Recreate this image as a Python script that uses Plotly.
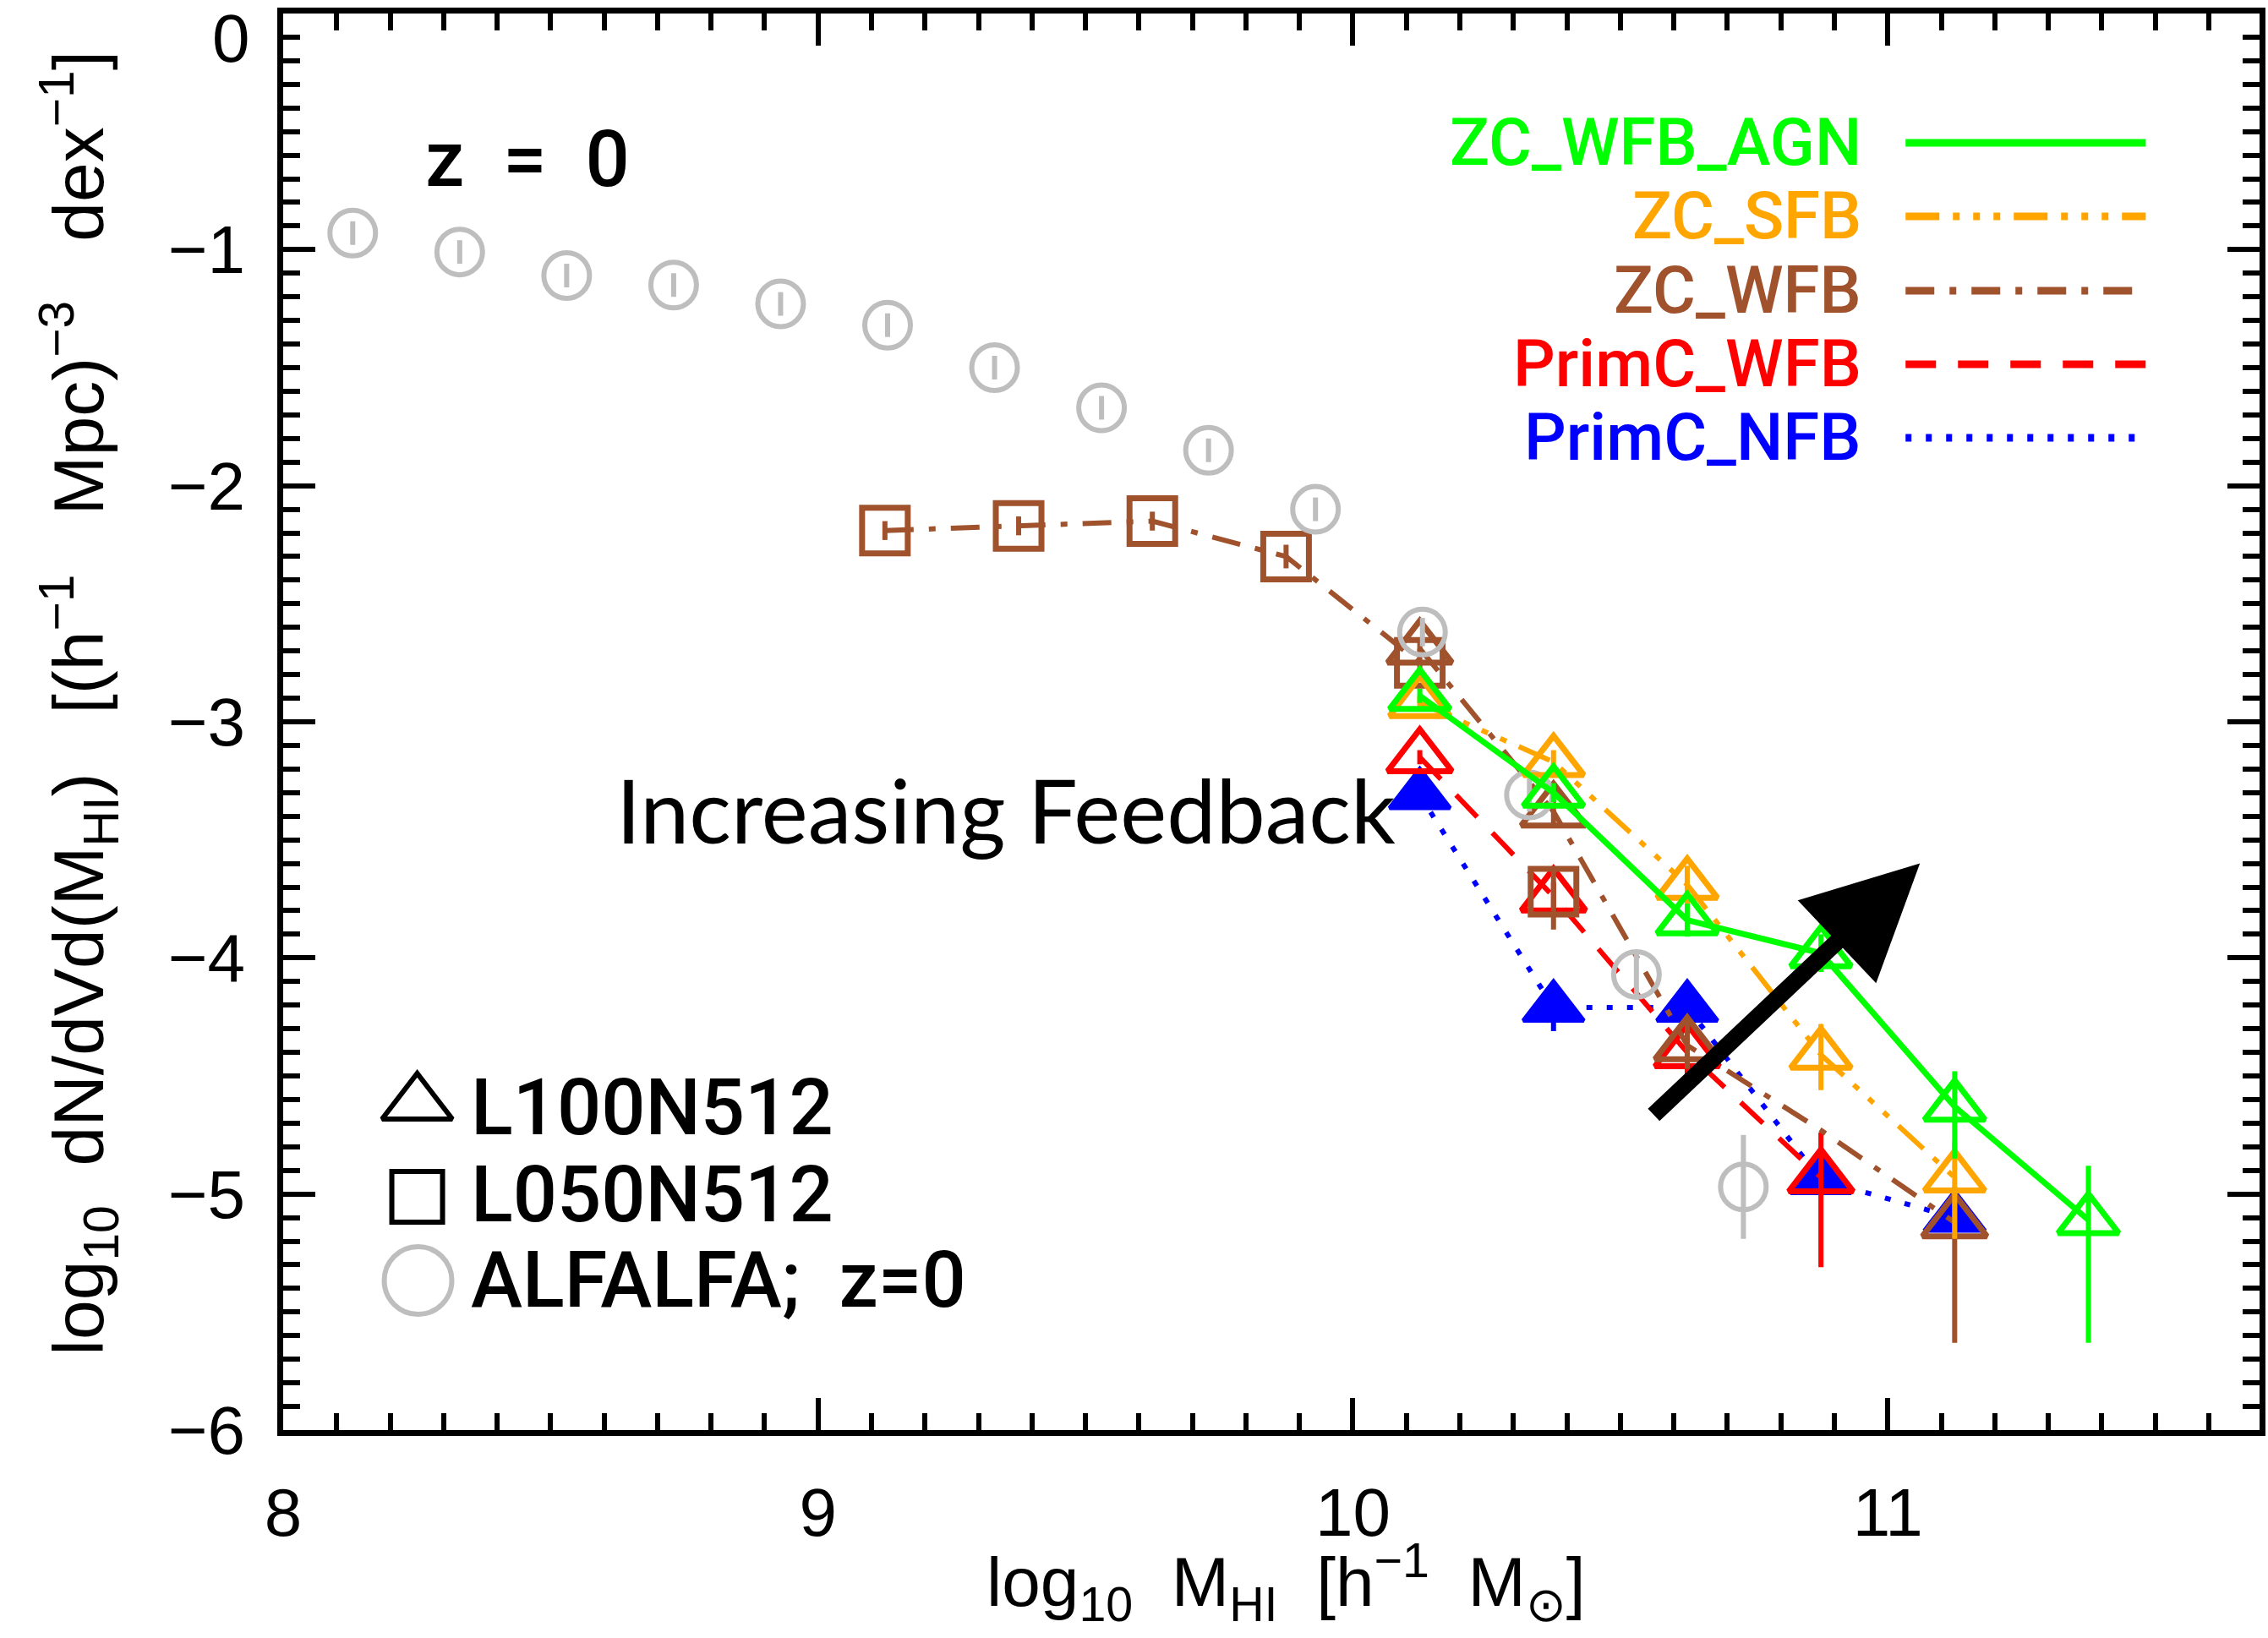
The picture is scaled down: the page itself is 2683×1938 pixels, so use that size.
import plotly.graph_objects as go

# ---------------- data ----------------
# ALFALFA observations (z=0)
alf_x = [8.13, 8.33, 8.53, 8.73, 8.93, 9.13, 9.33, 9.53, 9.73, 9.93, 10.13, 10.33, 10.53, 10.73]
alf_y = [-0.93, -1.01, -1.11, -1.15, -1.23, -1.32, -1.50, -1.67, -1.85, -2.10, -2.62, -3.31, -4.07, -4.97]
alf_err = [0.05, 0.05, 0.05, 0.05, 0.05, 0.05, 0.05, 0.05, 0.05, 0.05, 0.06, 0.07, 0.09, 0.22]

# L100N512 simulations (triangles)
sim_x = [10.125, 10.375, 10.625, 10.875, 11.125, 11.375]

agn_y = [-2.89, -3.30, -3.84, -3.98, -4.63, -5.11]
agn_ep = [0.03, 0.04, 0.07, 0.08, 0.15, 0.23]
agn_em = [0.03, 0.04, 0.07, 0.08, 0.22, 0.52]

sfb_y = [-2.92, -3.17, -3.69, -4.41, -4.93]
sfb_ep = [0.03, 0.05, 0.08, 0.13, 0.15]
sfb_em = [0.03, 0.05, 0.08, 0.15, 0.26]

wfb_y = [-2.69, -3.38, -4.37, -4.73, -5.12]
wfb_ep = [0.03, 0.05, 0.10, 0.0, 0.15]
wfb_em = [0.03, 0.05, 0.10, 0.0, 0.51]
wfb_shown = [1, 1, 1, 0, 1]

pwfb_y = [-3.15, -3.74, -4.40, -4.93]
pwfb_ep = [0.03, 0.06, 0.10, 0.19]
pwfb_em = [0.03, 0.06, 0.10, 0.38]

pnfb_y = [-3.31, -4.21, -4.21, -4.94, -5.10]
pnfb_ep = [0.03, 0.04, 0.04, 0.05, 0.05]
pnfb_em = [0.03, 0.10, 0.04, 0.05, 0.05]

# L050N512 simulation (squares), ZC_WFB
sq_x = [9.125, 9.375, 9.625, 9.875, 10.125, 10.375]
sq_y = [-2.19, -2.17, -2.15, -2.30, -2.75, -3.72]
sq_ep = [0.04, 0.04, 0.04, 0.05, 0.06, 0.09]
sq_em = [0.04, 0.04, 0.04, 0.05, 0.06, 0.16]

y_tick_vals = [0, -1, -2, -3, -4, -5, -6]
y_tick_text = ["0", "\u22121", "\u22122", "\u22123", "\u22124", "\u22125", "\u22126"]
x_tick_vals = [8, 9, 10, 11]
x_tick_text = ["8", "9", "10", "11"]

legend_names = ["ZC_WFB_AGN", "ZC_SFB", "ZC_WFB", "PrimC_WFB", "PrimC_NFB"]

# ---------------- styles ----------------
GREEN = "#00ff00"
ORANGE = "#ffa500"
BROWN = "#a0522d"
RED = "#ff0000"
BLUE = "#0000ff"
GREY = "#bebebe"
DASH = {
    "ZC_WFB_AGN": "solid",
    "ZC_SFB": "40px,16px,8px,16px,8px,16px,8px,16px",
    "ZC_WFB": "34px,18px,8px,18px",
    "PrimC_WFB": "36px,26px",
    "PrimC_NFB": "7px,17px",
}
COLORS = {"ZC_WFB_AGN": GREEN, "ZC_SFB": ORANGE, "ZC_WFB": BROWN,
          "PrimC_WFB": RED, "PrimC_NFB": BLUE}

W, H = 2683, 1938
ML, MR, MT, MB = 335, 3, 16, 246
PW, PH = W - ML - MR, H - MT - MB


def px(x):
    return (x - ML) / PW


def py(y):
    return (H - MB - y) / PH


TRI = 62
LW = 6
EBW = 6

fig = go.Figure()


def err(ep, em, color):
    return dict(type="data", symmetric=False, array=ep, arrayminus=em,
                color=color, thickness=EBW, width=0)


# order of drawing: blue, red, brown, ALFALFA, orange, green
fig.add_trace(go.Scatter(
    x=sim_x[:len(pnfb_y)], y=pnfb_y, mode="lines+markers",
    line=dict(color=BLUE, width=LW, dash=DASH["PrimC_NFB"]),
    marker=dict(symbol="triangle-up", size=TRI, color=BLUE,
                line=dict(color=BLUE, width=5)),
    error_y=err(pnfb_ep, pnfb_em, BLUE), showlegend=False))

fig.add_trace(go.Scatter(
    x=sim_x[:len(pwfb_y)], y=pwfb_y, mode="lines+markers",
    line=dict(color=RED, width=LW, dash=DASH["PrimC_WFB"]),
    marker=dict(symbol="triangle-up-open", size=TRI + 4, color=RED,
                line=dict(color=RED, width=7)),
    error_y=err(pwfb_ep, pwfb_em, RED), showlegend=False))

fig.add_trace(go.Scatter(
    x=sq_x[:5], y=sq_y[:5], mode="lines",
    line=dict(color=BROWN, width=LW, dash=DASH["ZC_WFB"]),
    showlegend=False, hoverinfo="skip"))
fig.add_trace(go.Scatter(
    x=sq_x, y=sq_y, mode="markers",
    marker=dict(symbol="square-open", size=54, color=BROWN,
                line=dict(color=BROWN, width=7)),
    error_y=err(sq_ep, sq_em, BROWN), showlegend=False))

fig.add_trace(go.Scatter(
    x=sim_x[:len(wfb_y)], y=wfb_y, mode="lines+markers",
    line=dict(color=BROWN, width=LW, dash=DASH["ZC_WFB"]),
    marker=dict(symbol="triangle-up-open", size=TRI + 4, color=BROWN,
                opacity=wfb_shown, line=dict(color=BROWN, width=7)),
    error_y=err(wfb_ep, wfb_em, BROWN), showlegend=False))

fig.add_trace(go.Scatter(
    x=alf_x, y=alf_y, mode="markers",
    marker=dict(symbol="circle-open", size=54, color=GREY,
                line=dict(color=GREY, width=6)),
    error_y=dict(type="data", array=alf_err, color=GREY, thickness=6, width=0),
    showlegend=False))

fig.add_trace(go.Scatter(
    x=sim_x[:len(sfb_y)], y=sfb_y, mode="lines+markers",
    line=dict(color=ORANGE, width=LW, dash=DASH["ZC_SFB"]),
    marker=dict(symbol="triangle-up-open", size=TRI, color=ORANGE,
                line=dict(color=ORANGE, width=7)),
    error_y=err(sfb_ep, sfb_em, ORANGE), showlegend=False))

fig.add_trace(go.Scatter(
    x=sim_x, y=agn_y, mode="lines+markers",
    line=dict(color=GREEN, width=LW + 1, dash=DASH["ZC_WFB_AGN"]),
    marker=dict(symbol="triangle-up-open", size=TRI, color=GREEN,
                line=dict(color=GREEN, width=7)),
    error_y=err(agn_ep, agn_em, GREEN), showlegend=False))

# ---- bottom-left symbol legend on an overlay axis (paper-like 0..1) ----
sym_legend_x = [px(494), px(494), px(495)]
sym_legend_y = [py(1306), py(1416), py(1515)]
fig.add_trace(go.Scatter(
    x=sym_legend_x[:1], y=sym_legend_y[:1], xaxis="x2", yaxis="y2", mode="markers",
    marker=dict(symbol="triangle-up-open", size=72, color="black",
                line=dict(color="black", width=6)), showlegend=False, hoverinfo="skip"))
fig.add_trace(go.Scatter(
    x=sym_legend_x[1:2], y=sym_legend_y[1:2], xaxis="x2", yaxis="y2", mode="markers",
    marker=dict(symbol="square-open", size=60, color="black",
                line=dict(color="black", width=6)), showlegend=False, hoverinfo="skip"))
fig.add_trace(go.Scatter(
    x=sym_legend_x[2:], y=sym_legend_y[2:], xaxis="x2", yaxis="y2", mode="markers",
    marker=dict(symbol="circle-open", size=80, color=GREY,
                line=dict(color=GREY, width=6)), showlegend=False, hoverinfo="skip"))

TICKFONT = dict(family="Liberation Sans", size=80, color="black")
LEGFONT = "Roboto, Liberation Sans, Arial"

annotations = []
shapes = []

# top-right legend
leg_rows = [169, 256, 344, 431, 518]
for name, yy in zip(legend_names, leg_rows):
    annotations.append(dict(
        x=px(2210), y=py(yy), xref="paper", yref="paper", xanchor="right", yanchor="middle",
        text=name, showarrow=False,
        font=dict(family=LEGFONT, size=78, color=COLORS[name], weight=500)))
    shapes.append(dict(
        type="line", xref="paper", yref="paper", x0=px(2260), x1=px(2545),
        y0=py(yy), y1=py(yy),
        line=dict(color=COLORS[name], width=9, dash=DASH[name])))

# bottom-left legend text
for t, yy in zip(["L100N512", "L050N512", "ALFALFA;  z=0"], [1310, 1413, 1514]):
    annotations.append(dict(
        x=px(556), y=py(yy), xref="paper", yref="paper", xanchor="left", yanchor="middle",
        text=t.replace(" ", "\u00a0"), showarrow=False,
        font=dict(family=LEGFONT, size=92, color="black", weight=500)))

# y tick label "0" (shifted down inside the frame, as in the original)
annotations.append(dict(
    x=px(298), y=py(46), xref="paper", yref="paper", xanchor="right", yanchor="middle",
    text=y_tick_text[0], showarrow=False, font=TICKFONT))

# z = 0
annotations.append(dict(
    x=px(625), y=py(188), xref="paper", yref="paper", xanchor="center", yanchor="middle",
    text="z\u00a0\u00a0=\u00a0\u00a00", showarrow=False,
    font=dict(family=LEGFONT, size=92, color="black", weight=500)))

# Increasing Feedback
annotations.append(dict(
    x=9.352, y=-3.37, xref="x", yref="y", xanchor="center", yanchor="middle",
    text="Increasing Feedback", showarrow=False,
    font=dict(family="Lato", size=104, color="black")))

# arrow
annotations.append(dict(
    x=11.06, y=-3.60, ax=10.56, ay=-4.67, xref="x", yref="y", axref="x", ayref="y",
    text="", showarrow=True, arrowhead=2, arrowsize=1.35, arrowwidth=20,
    arrowcolor="black", standoff=0))

# axis titles
annotations.append(dict(
    x=px(1525), y=py(1872), xref="paper", yref="paper", xanchor="center", yanchor="middle",
    text="log<sub>10</sub>\u00a0\u00a0M<sub>HI</sub>\u00a0\u00a0[h<sup>\u22121</sup>\u00a0\u00a0M<sub>\u2299</sub>]",
    showarrow=False, font=dict(family="Liberation Sans", size=82, color="black")))
annotations.append(dict(
    x=px(92), y=py(832), xref="paper", yref="paper", xanchor="center", yanchor="middle",
    textangle=-90,
    text="log<sub>10</sub>\u00a0\u00a0dN/dVd(M<sub>HI</sub>)\u00a0\u00a0\u00a0[(h<sup>\u22121</sup>\u00a0\u00a0\u00a0Mpc)<sup>\u22123</sup>\u00a0\u00a0\u00a0dex<sup>\u22121</sup>]",
    showarrow=False, font=dict(family="Liberation Sans", size=84, color="black")))

axis_common = dict(
    showgrid=False, zeroline=False, showline=True, linecolor="black", linewidth=7,
    mirror="allticks", ticks="inside", tickcolor="black", tickwidth=6, ticklen=38,
    tickfont=TICKFONT,
    minor=dict(dtick=0.1, ticks="inside", ticklen=20, tickwidth=6, tickcolor="black"),
)

fig.update_layout(
    width=W, height=H, paper_bgcolor="white", plot_bgcolor="white",
    margin=dict(l=ML, r=MR, t=MT, b=MB),
    xaxis=dict(range=[8, 11.695], tickvals=x_tick_vals, ticktext=x_tick_text,
               ticklabelstandoff=22, **axis_common),
    yaxis=dict(range=[-6, 0], tickvals=y_tick_vals[1:], ticktext=y_tick_text[1:],
               ticklabelstandoff=22, **axis_common),
    xaxis2=dict(range=[0, 1], overlaying="x", visible=False, anchor="y2"),
    yaxis2=dict(range=[0, 1], overlaying="y", visible=False, anchor="x2"),
    annotations=annotations, shapes=shapes, showlegend=False,
)

fig.write_html("out.html")
